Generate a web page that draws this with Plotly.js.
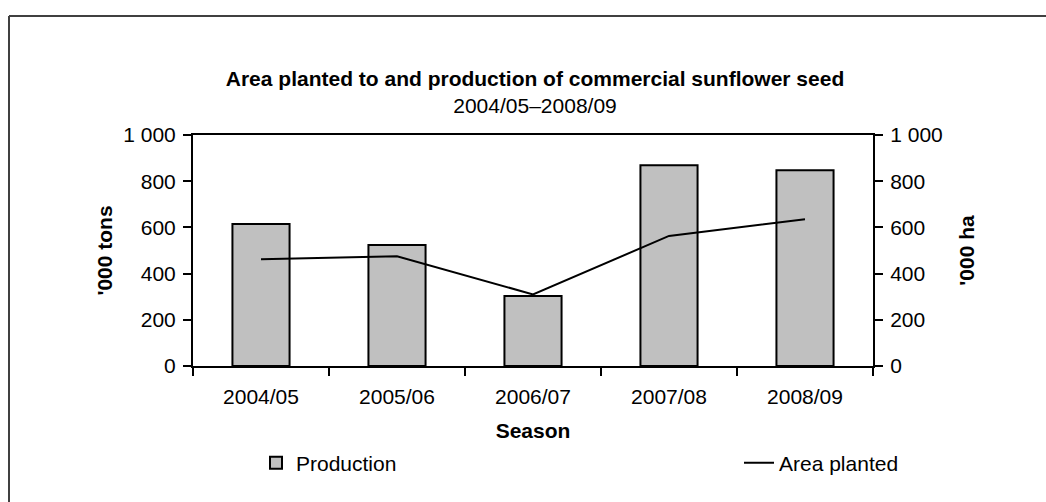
<!DOCTYPE html>
<html>
<head>
<meta charset="utf-8">
<script src="https://cdn.plot.ly/plotly-3.0.1.min.js"></script>
<style>html,body{margin:0;padding:0;background:#fff;}#chart{width:1046px;height:502px;}</style>
</head>
<body>
<div id="chart"></div>
<script>
// Data
const seasons = ['2004/05', '2005/06', '2006/07', '2007/08', '2008/09'];
const production = [615, 524, 303, 869, 847];   // '000 tons
const areaPlanted = [462, 475, 310, 563, 635];   // '000 ha
const yTickValues = [0, 200, 400, 600, 800, 1000];

const FONT = '"Liberation Sans", Arial, Helvetica, sans-serif';
const FS = 21;

const traces = [
  {
    type: 'bar',
    name: 'Production',
    x: seasons,
    y: production,
    marker: { color: '#c0c0c0', line: { color: '#000000', width: 2 } },
    legend: 'legend',
    hoverinfo: 'x+y'
  },
  {
    type: 'scatter',
    mode: 'lines',
    name: 'Area planted',
    x: seasons,
    y: areaPlanted,
    yaxis: 'y2',
    line: { color: '#000000', width: 2 },
    legend: 'legend2',
    hoverinfo: 'x+y'
  }
];

const W = 1046, H = 502;
const M = { l: 193, r: 173, t: 135, b: 136 };
const pw = W - M.l - M.r, ph = H - M.t - M.b;
const px = v => (v - M.l) / pw;
const py = v => (H - M.b - v) / ph;

const yAxisCommon = {
  range: [0, 1000],
  tickvals: yTickValues,
  separatethousands: true,
  ticks: 'outside',
  ticklen: 8,
  tickwidth: 2,
  tickcolor: '#000',
  showline: true,
  linewidth: 2,
  linecolor: '#000',
  showgrid: false,
  zeroline: false,
  fixedrange: true,
  ticklabelstandoff: 3,
  tickfont: { family: FONT, size: FS, color: '#000' }
};

const layout = {
  width: W,
  height: H,
  margin: M,
  paper_bgcolor: '#ffffff',
  plot_bgcolor: '#ffffff',
  separators: '. ',
  font: { family: FONT, size: FS, color: '#000' },
  title: {
    text: '<b>Area planted to and production of commercial sunflower seed</b><br>2004/05–2008/09',
    font: { family: FONT, size: FS, color: '#000' },
    x: 535 / W,
    xanchor: 'center',
    xref: 'container',
    yref: 'container',
    y: 1 - 86 / H,
    yanchor: 'top'
  },
  bargap: 0.58,
  showlegend: true,
  legend: {
    orientation: 'h',
    x: px(256), xanchor: 'left',
    y: py(463), yanchor: 'middle',
    font: { family: FONT, size: FS, color: '#000' },
    bgcolor: 'rgba(0,0,0,0)',
    borderwidth: 0
  },
  legend2: {
    orientation: 'h',
    x: px(739), xanchor: 'left',
    y: py(463), yanchor: 'middle',
    font: { family: FONT, size: FS, color: '#000' },
    bgcolor: 'rgba(0,0,0,0)',
    borderwidth: 0
  },
  xaxis: {
    type: 'category',
    tickson: 'boundaries',
    ticks: 'outside',
    ticklen: 8,
    tickwidth: 2,
    tickcolor: '#000',
    showline: true,
    mirror: true,
    linewidth: 2,
    linecolor: '#000',
    showgrid: false,
    zeroline: false,
    fixedrange: true,
    ticklabelstandoff: 11,
    tickfont: { family: FONT, size: FS, color: '#000' },
    title: { text: '<b>Season</b>', font: { family: FONT, size: FS, color: '#000' }, standoff: 16 }
  },
  yaxis: Object.assign({}, yAxisCommon, {
    side: 'left',
    title: { text: "<b>'000 tons</b>", font: { family: FONT, size: FS, color: '#000' }, standoff: 5 }
  }),
  yaxis2: Object.assign({}, yAxisCommon, {
    side: 'right',
    overlaying: 'y',
    title: { text: "<b>'000 ha</b>", font: { family: FONT, size: FS, color: '#000' }, standoff: 18 }
  }),
  shapes: [
    {
      type: 'line', xref: 'paper', yref: 'paper',
      x0: px(9), x1: px(1100), y0: py(16), y1: py(16),
      line: { color: '#404040', width: 2 }, layer: 'below'
    },
    {
      type: 'line', xref: 'paper', yref: 'paper',
      x0: px(9), x1: px(9), y0: py(16), y1: py(620),
      line: { color: '#404040', width: 2 }, layer: 'below'
    }
  ]
};

Plotly.newPlot('chart', traces, layout, { displayModeBar: false, staticPlot: true });
</script>
</body>
</html>
